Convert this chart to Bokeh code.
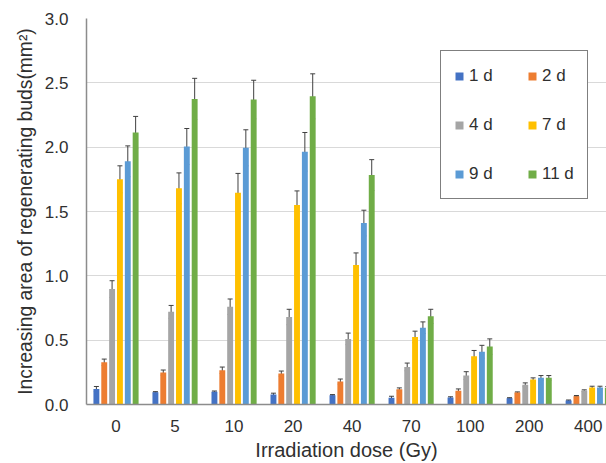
from bokeh.plotting import figure
from bokeh.models import (ColumnDataSource, Range1d, FixedTicker, Whisker, Legend,
                          LegendItem, TeeHead)
from bokeh.transform import dodge
from bokeh.embed import file_html
from bokeh.resources import INLINE

doses = ["0", "5", "10", "20", "40", "70", "100", "200", "400"]
series = ["1 d", "2 d", "4 d", "7 d", "9 d", "11 d"]
colors = ["#4472C4", "#ED7D31", "#A5A5A5", "#FFC000", "#5B9BD5", "#70AD47"]

d1 = [0.120, 0.095, 0.100, 0.078, 0.072, 0.052, 0.054, 0.049, 0.031]
d1_err = [0.020, 0.005, 0.005, 0.010, 0.005, 0.012, 0.006, 0.004, 0.004]
d2 = [0.328, 0.248, 0.266, 0.240, 0.178, 0.119, 0.106, 0.093, 0.065]
d2_err = [0.025, 0.020, 0.025, 0.020, 0.020, 0.010, 0.015, 0.005, 0.005]
d4 = [0.897, 0.720, 0.760, 0.680, 0.510, 0.292, 0.225, 0.153, 0.108]
d4_err = [0.065, 0.050, 0.060, 0.060, 0.045, 0.030, 0.030, 0.015, 0.006]
d7 = [1.750, 1.680, 1.646, 1.550, 1.085, 0.525, 0.375, 0.194, 0.132]
d7_err = [0.105, 0.120, 0.150, 0.110, 0.093, 0.045, 0.045, 0.013, 0.010]
d9 = [1.890, 2.005, 1.995, 1.964, 1.410, 0.597, 0.410, 0.207, 0.132]
d9_err = [0.120, 0.140, 0.140, 0.150, 0.100, 0.045, 0.050, 0.018, 0.010]
d11 = [2.114, 2.375, 2.370, 2.395, 1.783, 0.685, 0.450, 0.207, 0.130]
d11_err = [0.125, 0.160, 0.150, 0.175, 0.120, 0.055, 0.060, 0.018, 0.010]

values = [d1, d2, d4, d7, d9, d11]
errors = [d1_err, d2_err, d4_err, d7_err, d9_err, d11_err]

y_ticks = [0.0, 0.5, 1.0, 1.5, 2.0, 2.5, 3.0]

FONT = "Liberation Sans"
TXT = "#303030"

p = figure(width=606, height=463, output_backend="svg", toolbar_location=None,
           x_range=Range1d(0, 8.81), y_range=Range1d(0, 3.0),
           min_border_left=86, min_border_right=0, min_border_top=18,
           min_border_bottom=58)
p.outline_line_color = None
p.background_fill_color = "white"
p.xgrid.grid_line_color = None
p.ygrid.grid_line_color = "#D9D9D9"
p.ygrid.grid_line_width = 1

centers = [i + 0.5 for i in range(len(doses))]
p.xaxis.ticker = FixedTicker(ticks=centers)
p.xaxis.major_label_overrides = {c: d for c, d in zip(centers, doses)}
p.yaxis.ticker = FixedTicker(ticks=y_ticks)
p.yaxis.major_label_overrides = {t: f"{t:.1f}" for t in y_ticks}

for ax in (p.xaxis[0], p.yaxis[0]):
    ax.major_tick_line_color = None
    ax.minor_tick_line_color = None
    ax.major_label_text_font = FONT
    ax.major_label_text_font_size = "17px"
    ax.major_label_text_color = TXT
    ax.axis_label_text_font = FONT
    ax.axis_label_text_font_style = "normal"
    ax.axis_label_text_color = TXT
    ax.axis_line_color = "#8C8C8C"
    ax.axis_line_width = 1.5

p.xaxis.axis_label = "Irradiation dose (Gy)"
p.yaxis.axis_label = "Increasing area of regenerating buds(mm\u00b2)"
p.xaxis.axis_label_text_font_size = "20px"
p.yaxis.axis_label_text_font_size = "19.3px"
p.xaxis.major_label_standoff = 9
p.xaxis.axis_label_standoff = 4
p.yaxis.major_label_standoff = 12
p.yaxis.axis_label_standoff = 6

pitch = 0.133
renderers = []
for k, (name, col, vals, errs) in enumerate(zip(series, colors, values, errors)):
    off = (k - 2.5) * pitch
    src = ColumnDataSource(dict(
        x=centers, top=vals,
        upper=[v + e for v, e in zip(vals, errs)],
        lower=[v - e for v, e in zip(vals, errs)],
    ))
    r = p.vbar(x=dodge("x", off), top="top", width=0.1, bottom=0, source=src,
               fill_color=col, line_color=None)
    w = Whisker(base=dodge("x", off), upper="upper", lower="lower", source=src,
                line_color="#404040", line_width=1,
                upper_head=TeeHead(size=5, line_color="#404040", line_width=1),
                lower_head=TeeHead(size=5, line_color="#404040", line_width=1))
    p.add_layout(w)
    renderers.append(r)

# legend is filled column by column: reorder so rows read 1 d/2 d, 4 d/7 d, 9 d/11 d
order = [0, 2, 4, 1, 3, 5]
items = [LegendItem(label=series[i], renderers=[renderers[i]]) for i in order]

legend = Legend(items=items, ncols=2, location=(354, 205),
                label_text_font=FONT, label_text_font_size="17px",
                label_text_color=TXT,
                glyph_width=10, glyph_height=10, label_standoff=5,
                label_height=23, label_width=32, spacing=26, padding=13,
                margin=0, border_line_color="#000000", border_line_width=1,
                background_fill_color="white", background_fill_alpha=1.0)
p.add_layout(legend)

open("out.html", "w").write(file_html(p, INLINE))
